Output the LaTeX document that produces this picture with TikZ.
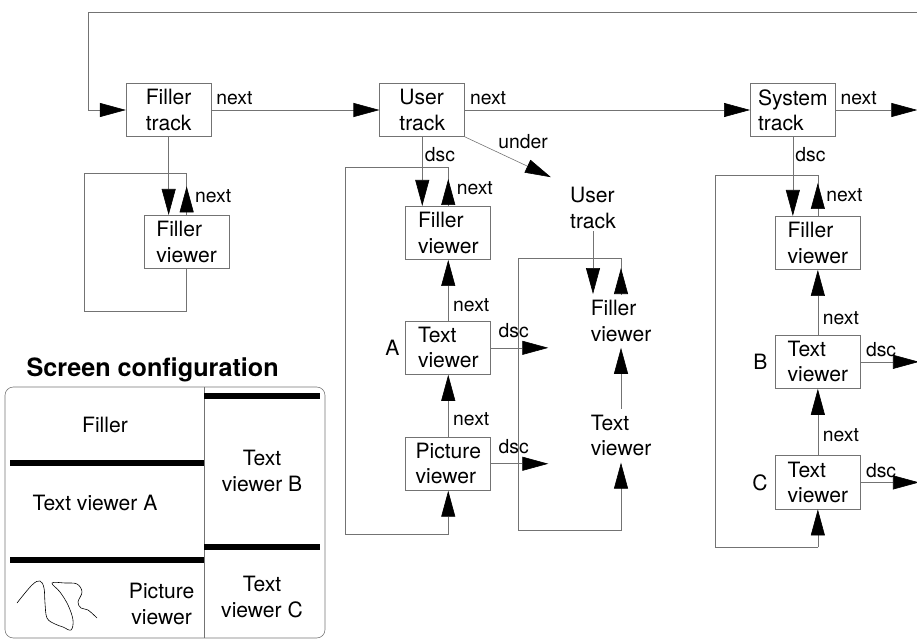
\documentclass[tikz,border=0pt]{standalone}
\usepackage{xcolor}
\usepackage{tikz}
\usepackage{fontspec}
\setmainfont{TeX Gyre Heros}
\usetikzlibrary{arrows.meta, positioning, calc}
\definecolor{wiregray}{RGB}{115,115,115}

\begin{document}
\begin{tikzpicture}[
    node distance=1cm,
    box/.style={rectangle, minimum width=2.55cm, minimum height=1.6cm, align=left, draw=wiregray, line width=0.5pt, font=\fontsize{18}{21.5}\selectfont},
    bare/.style={rectangle, minimum width=2.55cm, minimum height=1.6cm, align=left, font=\fontsize{18}{21.5}\selectfont},
    letter/.style={font=\fontsize{18}{21.5}\selectfont, inner sep=2pt},
    lbl/.style={font=\fontsize{16.5}{19}\selectfont, inner sep=2pt},
    wire/.style={draw=wiregray, line width=0.5pt},
    arrow/.style={wire, -{Triangle[length=0.78cm, width=0.42cm, color=black]}},
    bar/.style={draw=black, line width=0.17cm}
]
    \useasboundingbox (0,0) rectangle (27.51,-19.2);

    \node[box] (ftrack) at (5.06,-3.3) {Filler\\track};
    \node[box, right=5.04cm of ftrack] (utrack) {User\\track};
    \node[box, right=8.55cm of utrack] (strack) {System\\track};

    \node[box, below=2.34cm of ftrack, xshift=0.54cm] (fviewL) {Filler\\viewer};

    \node[box, below=2.07cm of utrack, xshift=0.78cm] (fviewU) {Filler\\viewer};
    \node[box, below=1.83cm of fviewU] (tviewA) {Text\\viewer};
    \node[box, below=1.86cm of tviewA] (pviewU) {Picture\\viewer};
    \node[letter, left=0.1cm of tviewA] (labA) {A};

    \node[letter, align=left] (utrack2) at (17.79,-6.24) {User\\track};
    \node[bare, below=1.89cm of utrack2, xshift=0.84cm] (ufview) {Filler\\viewer};
    \node[bare, below=1.83cm of ufview] (utview) {Text\\viewer};

    \node[box, below=2.37cm of strack, xshift=0.75cm] (fviewS) {Filler\\viewer};
    \node[box, below=1.95cm of fviewS] (tviewB) {Text\\viewer};
    \node[box, below=2.0cm of tviewB] (tviewC) {Text\\viewer};
    \node[letter, left=0.15cm of tviewB] (labB) {B};
    \node[letter, left=0.15cm of tviewC] (labC) {C};

    \coordinate (loopin) at (27.51,-0.36);
    \coordinate[right=2.45cm of strack.east] (outS);
    \coordinate[right=1.75cm of tviewB.east] (outB);
    \coordinate[right=1.75cm of tviewC.east] (outC);

    \coordinate[above=1.26cm of fviewL.north] (topL);
    \coordinate[below=1.26cm of fviewL.south] (botL);
    \coordinate[left=3.06cm of botL] (cornerL);
    \coordinate[above=1.17cm of fviewU.north] (topU);
    \coordinate[below=1.32cm of pviewU.south] (botU);
    \coordinate[left=3.09cm of botU] (cornerU);
    \coordinate[above=1.08cm of ufview.north] (topX);
    \coordinate[below=2.04cm of utview.south] (botX);
    \coordinate[left=3.09cm of botX] (cornerX);
    \coordinate[above=1.23cm of fviewS.north] (topS);
    \coordinate[below=1.14cm of tviewC.south] (botS);
    \coordinate[left=3.09cm of botS] (cornerS);

    \draw[arrow] (loopin) -| ([xshift=-1.14cm]ftrack.west) -- (ftrack.west);
    \draw[arrow] (ftrack) -- node[lbl, pos=0, anchor=south west, xshift=2pt, yshift=2pt] {next} (utrack);
    \draw[arrow] (utrack) -- node[lbl, pos=0, anchor=south west, xshift=2pt, yshift=2pt] {next} (strack);
    \draw[arrow] (strack) -- node[lbl, pos=0, anchor=south west, xshift=2pt, yshift=2pt] {next} (outS);

    \draw[arrow] (ftrack.south) -- (ftrack.south |- fviewL.north);
    \draw[wire] (fviewL.north) -- (topL) -| (cornerL) -- (botL) -- (fviewL.south);
    \draw[arrow, shorten >=0.4cm] (fviewL.north) -- node[lbl, right=5pt, pos=0.45] {next} (topL);

    \draw[arrow] (utrack.south) -- node[lbl, right, pos=0.25] {dsc} (utrack.south |- fviewU.north);
    \draw[wire] (fviewU.north) -- (topU) -| (cornerU) -- (botU);
    \draw[arrow] (botU) -- (pviewU.south);
    \draw[arrow, shorten >=0.36cm] (fviewU.north) -- node[lbl, right=5pt, pos=0.45] {next} (topU);
    \draw[arrow] (tviewA) -- node[lbl, right=2pt, pos=0.25] {next} (fviewU);
    \draw[arrow] (pviewU) -- node[lbl, right=2pt, pos=0.29] {next} (tviewA);
    \draw[arrow, shorten >=0.9cm] (tviewA.east) -- node[lbl, above=6pt, pos=0.26] {dsc} (tviewA.east -| ufview.west);
    \draw[arrow, shorten >=0.9cm] (pviewU.east) -- node[lbl, above=6pt, pos=0.26] {dsc} (pviewU.east -| utview.west);

    \draw[arrow, shorten >=0.55cm] (utrack.south east) -- node[lbl, pos=0.3, anchor=south west] {under} (utrack2.north west);
    \draw[arrow] (utrack2.south) -- (utrack2.south |- ufview.north);
    \draw[wire] (ufview.north) -- (topX) -| (cornerX) -- (botX);
    \draw[arrow] (botX) -- (utview.south);
    \draw[arrow, shorten >=0.3cm] (ufview.north) -- (topX);
    \draw[arrow] (utview) -- (ufview);

    \draw[arrow] (strack.south) -- node[lbl, right, pos=0.22] {dsc} (strack.south |- fviewS.north);
    \draw[wire] (fviewS.north) -- (topS) -| (cornerS) -- (botS);
    \draw[arrow] (botS) -- (tviewC.south);
    \draw[arrow, shorten >=0.24cm] (fviewS.north) -- node[lbl, right=5pt, pos=0.5] {next} (topS);
    \draw[arrow] (tviewB) -- node[lbl, right=2pt, pos=0.25] {next} (fviewS);
    \draw[arrow] (tviewC) -- node[lbl, right=2pt, pos=0.3] {next} (tviewB);
    \draw[arrow] (tviewB) -- node[lbl, above=2pt, pos=0.35] {dsc} (outB);
    \draw[arrow] (tviewC) -- node[lbl, above=2pt, pos=0.35] {dsc} (outC);

    \node[font=\fontsize{21.5}{25}\selectfont\bfseries] (sctitle) at (4.58,-11.1) {Screen configuration};
    \draw[wire, rounded corners=0.25cm] (0.15,-11.61) rectangle (9.75,-19.14);
    \draw[wire] (6.12,-11.61) -- (6.12,-19.14);
    \draw[bar] (0.3,-13.89) -- (6.12,-13.89);
    \draw[bar] (0.3,-16.8) -- (6.12,-16.8);
    \draw[bar] (6.12,-11.88) -- (9.6,-11.88);
    \draw[bar] (6.12,-16.41) -- (9.6,-16.41);
    \node[letter] (pfiller) at (3.15,-12.75) {Filler};
    \node[letter] (ptexta) at (2.85,-15.09) {Text viewer A};
    \node[letter, align=center] (ppicture) at (4.85,-18.12) {Picture\\viewer};
    \node[letter, align=center] (ptextb) at (7.86,-14.13) {Text\\viewer B};
    \node[letter, align=center] (ptextc) at (7.86,-17.91) {Text\\viewer C};
    \draw[black, line width=0.5pt] plot[smooth, tension=0.6] coordinates {(0.51,-18.09) (0.96,-17.55) (1.2,-17.43) (1.32,-17.64) (1.35,-18.09) (1.41,-18.54) (1.65,-18.72) (1.89,-18.81) (2.13,-18.9) (2.19,-18.6) (2.04,-18.15) (1.8,-17.76) (1.56,-17.49) (1.95,-17.49) (2.31,-17.52) (2.46,-17.76) (2.34,-18.06) (2.43,-18.24) (2.64,-18.3) (2.91,-18.54)};

\end{tikzpicture}
\end{document}
